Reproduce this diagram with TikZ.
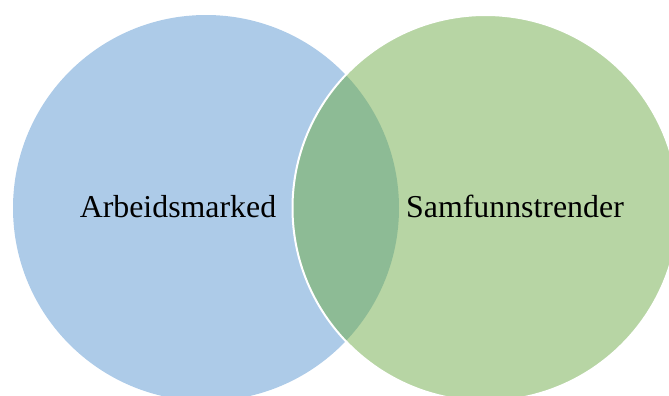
\documentclass[tikz,border=0pt]{standalone}
\usepackage{fontspec}
\setmainfont{Liberation Serif}
\definecolor{arbblue}{HTML}{ADCBE8}
\definecolor{samgreen}{HTML}{B7D5A4}
\definecolor{lensgreen}{HTML}{8DBB95}
\tikzstyle{set}=[circle,minimum size=289.5pt,inner sep=0pt]
\tikzstyle{setlabel}=[anchor=base,inner sep=0pt,font=\fontsize{23.9}{28}\selectfont]
\newcommand{\setradius}{144.75pt}

\begin{document}
\begin{tikzpicture}[x=0.75pt, y=-0.75pt]
    \useasboundingbox (0,0) rectangle (669,396);
    % First we draw the two sets
    \node[set, fill=arbblue] (arb) at (206,208) {};
    \node[set, fill=samgreen] (sam) at (485.5,208) {};
    % Shade the overlap
    \begin{scope}
        \clip (arb.center) circle [radius=\setradius];
        \fill[lensgreen] (sam.center) circle [radius=\setradius];
    \end{scope}
    \draw[white, line width=1.5pt] (sam.center) circle [radius=\setradius];
    % Then the labels
    \foreach \pos/\name/\text in {{(178,217)/arblabel/Arbeidsmarked}, {(515,217)/samlabel/Samfunnstrender}}
        \node[setlabel] (\name) at \pos {\text};
\end{tikzpicture}
\end{document}
